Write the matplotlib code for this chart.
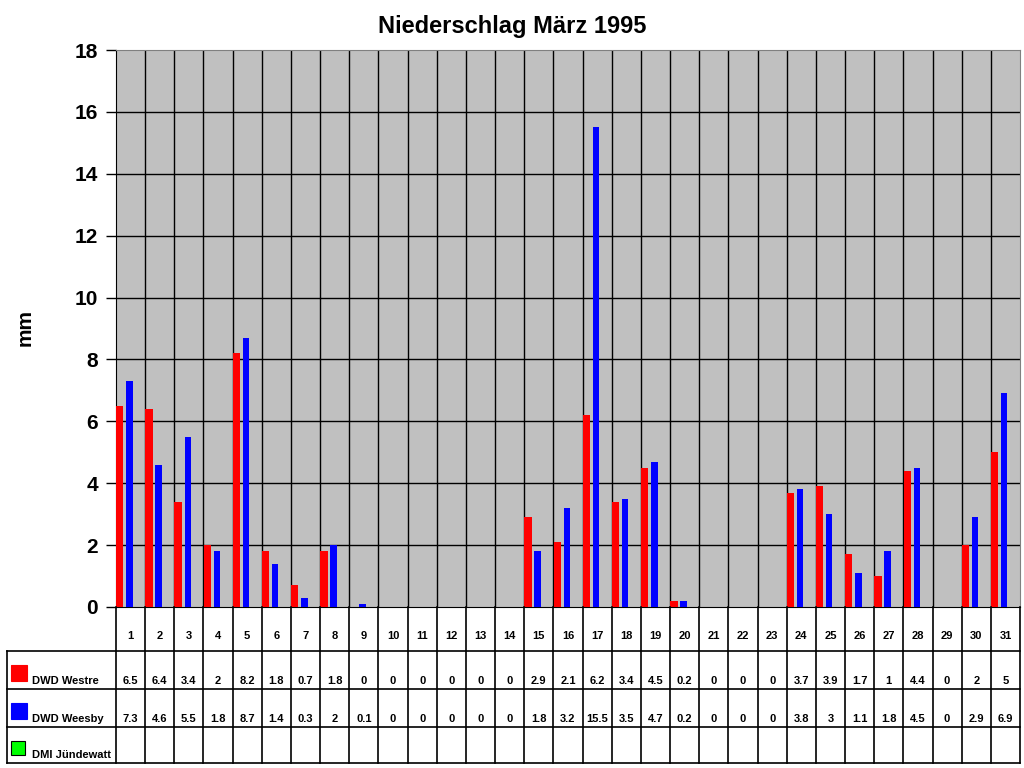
import matplotlib.pyplot as plt
import numpy as np
from matplotlib.patches import Rectangle

days = list(range(1, 32))
westre = [6.5, 6.4, 3.4, 2, 8.2, 1.8, 0.7, 1.8, 0, 0, 0, 0, 0, 0, 2.9, 2.1, 6.2,
          3.4, 4.5, 0.2, 0, 0, 0, 3.7, 3.9, 1.7, 1, 4.4, 0, 2, 5]
weesby = [7.3, 4.6, 5.5, 1.8, 8.7, 1.4, 0.3, 2, 0.1, 0, 0, 0, 0, 0, 1.8, 3.2, 15.5,
          3.5, 4.7, 0.2, 0, 0, 0, 3.8, 3, 1.1, 1.8, 4.5, 0, 2.9, 6.9]
series = [("DWD Westre", "#ff0000", westre),
          ("DWD Weesby", "#0000ff", weesby),
          ("DMI Jündewatt", "#00ff00", None)]

plt.rcParams['font.family'] = ['Liberation Sans', 'DejaVu Sans']
W, H = 1024, 768
fig = plt.figure(figsize=(10.24, 7.68), dpi=100)

# main chart area in pixels
L, R, T, B = 116, 1020, 50, 607
ax = fig.add_axes([L / W, 1 - B / H, (R - L) / W, (B - T) / H])
ax.set_facecolor("#c0c0c0")
x = np.array(days)
ax.bar(x - 0.5 + 0.005, westre, width=0.25, align="edge", color="#ff0000", zorder=3)
ax.bar(x - 0.5 + 0.35, weesby, width=0.22, align="edge", color="#0000ff", zorder=3)
ax.set_xlim(0.5, 31.5)
ax.set_ylim(0, 18)
ax.set_yticks(range(0, 19, 2))
ax.set_xticks([])
for v in np.arange(1.5, 31.5, 1):
    ax.axvline(v, color="black", lw=1, zorder=1)
for v in range(2, 18, 2):
    ax.axhline(v, color="black", lw=1, zorder=1)
ax.tick_params(axis="y", length=7, width=1, labelsize=15, pad=6)
for lab in ax.get_yticklabels():
    lab.set_fontweight("bold")
ax.spines["top"].set_color("#808080")
ax.spines["right"].set_color("#808080")
fig.text(25 / W, 1 - 328 / H, "mm", rotation=90, ha="center", va="center",
         fontsize=15, fontweight="bold")
fig.text(0.5, 1 - 27 / H, "Niederschlag März 1995", ha="center", va="center",
         fontsize=17, fontweight="bold")

# data table below the chart, columns aligned with the bars
TL, TB = 7, 763
px = 31.0 / (R - L)
tab = fig.add_axes([TL / W, 1 - TB / H, (R - TL) / W, (TB - B) / H])
tab.set_xlim(0.5 - (L - TL) * px, 31.5)
tab.set_ylim(TB - B, 0)
tab.axis("off")
rows = [0, 44, 82, 120, 156]
x0 = 0.5 - (L - TL) * px
kw = dict(color="black", lw=1.2, clip_on=False)
for v in np.arange(0.5, 32.5, 1):
    tab.plot([v, v], [0, rows[-1]], **kw)
tab.plot([x0, x0], [rows[1], rows[-1]], **kw)
for r in rows[1:]:
    tab.plot([x0, 31.5], [r, r], **kw)
for d in days:
    tab.text(d, 29, str(d), ha="center", va="center", fontsize=8, fontweight="bold")

for k, (name, col, vals) in enumerate(series):
    top, bot = rows[k + 1], rows[k + 2]
    sq = 16 if k < 2 else 14
    tab.add_patch(Rectangle((x0 + 4 * px, bot - 8 - sq), sq * px, sq,
                            facecolor=col, edgecolor="black" if k == 2 else col,
                            lw=0.8, clip_on=False))
    tab.text(x0 + 25 * px, bot - 3, name, ha="left", va="bottom",
             fontsize=8, fontweight="bold")
    if vals is not None:
        for d, v in zip(days, vals):
            tab.text(d, bot - 8, f"{v:g}", ha="center", va="center",
                     fontsize=8, fontweight="bold")

fig.savefig("out.png", dpi=100)
